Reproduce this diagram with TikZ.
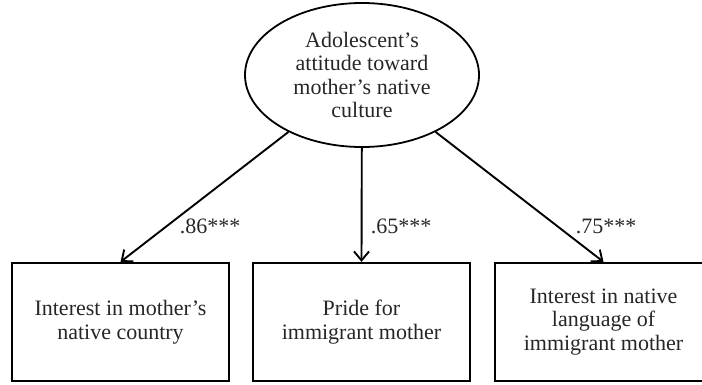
\documentclass[tikz,border=0pt]{standalone}
\usepackage{fontspec}
\setmainfont{Liberation Serif}
\usetikzlibrary{shapes.geometric,arrows.meta}
\begin{document}
\begin{tikzpicture}[x=1pt,y=-1pt,
  txt/.style={font=\fontsize{22}{23.5}\selectfont, align=center, text=black!85},
  latent/.style={ellipse, draw, line width=1.8pt, minimum width=234pt, minimum height=144pt, inner sep=0pt, txt},
  obs/.style={rectangle, draw, line width=2.2pt, minimum width=217pt, minimum height=118pt, inner sep=0pt, txt},
  path/.style={line width=1.9pt, -{Straight Barb[length=9pt,width=15pt,line width=1.9pt]}},
  coef/.style={font=\fontsize{22}{24}\selectfont, text=black!85, inner sep=0pt}
]
\useasboundingbox (0,0) rectangle (702,384);
\node[latent] (e) at (362,75) {Adolescent’s\\attitude toward\\mother’s native\\culture};
\node[obs] (b1) at (120.5,322) {Interest in mother’s\\native country};
\node[obs] (b2) at (361.5,322) {Pride for\\immigrant mother};
\node[obs] (b3) at (603.5,322) {Interest in native\\language of\\immigrant mother};
\draw[path] (e) -- (b1.north);
\draw[path] (e) -- (b2.north);
\draw[path] (e) -- (b3.north);
\node[coef] (c1) at (210,226) {.86***};
\node[coef] (c2) at (401,226) {.65***};
\node[coef] (c3) at (606,226) {.75***};
\end{tikzpicture}
\end{document}
